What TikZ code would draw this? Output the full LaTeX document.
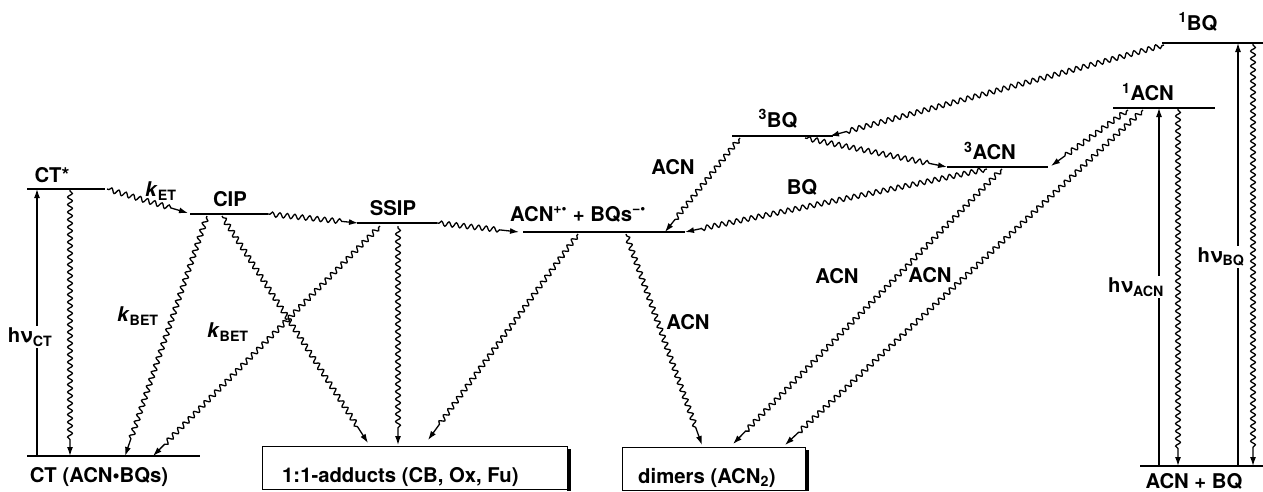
\documentclass[tikz,border=0pt]{standalone}
\usepackage{fontspec}
\setmainfont{TeX Gyre Heros}
\usetikzlibrary{decorations.pathmorphing,arrows.meta}
\begin{document}
\begin{tikzpicture}[x=1pt,y=-1pt,
  font=\fontsize{20.3}{23}\selectfont\bfseries,
  lvl/.style={line width=1.3pt},
  tip/.style={-{Latex[length=9pt,width=6pt]}},
  wv/.style={line width=1.3pt, tip, decorate,
    decoration={snake, amplitude=2.4pt, segment length=7.5pt, pre length=2pt, post length=16pt}},
  st/.style={line width=1.2pt, tip},
  lab/.style={inner sep=1pt},
  hlab/.style={inner sep=2pt, fill=white},
  boxs/.style={draw, line width=1.2pt, minimum height=43pt, anchor=north west, inner sep=0pt}]
\useasboundingbox (0,0) rectangle (1263,491);

% ---------- levels ----------
\coordinate (CTsL) at (27,189);   \coordinate (CTsR) at (105,189);
\coordinate (CT0L) at (27,456);   \coordinate (CT0R) at (200,456);
\coordinate (CIPL) at (190,214);  \coordinate (CIPR) at (268,214);
\coordinate (SSL) at (357,223);   \coordinate (SSR) at (437,223);
\coordinate (IPL) at (523,232);   \coordinate (IPR) at (685,232);
\coordinate (TBL) at (732,136);   \coordinate (TBR) at (833,136);
\coordinate (TAL) at (947,167);   \coordinate (TAR) at (1048,167);
\coordinate (SAL) at (1113,108);  \coordinate (SAR) at (1215,108);
\coordinate (SBL) at (1162,43);   \coordinate (SBR) at (1263,43);
\coordinate (GL) at (1140,466);   \coordinate (GR) at (1263,466);
\foreach \a/\b in {CTsL/CTsR,CT0L/CT0R,CIPL/CIPR,SSL/SSR,IPL/IPR,TBL/TBR,TAL/TAR,SAL/SAR,SBL/SBR,GL/GR}
  \draw[lvl] (\a) -- (\b);

% ---------- boxes ----------
\node[boxs, minimum width=305pt] (adducts) at (262,446) {};
\fill (567,449) rectangle (571,491);
\node[anchor=west, inner sep=0pt] (adductsT) at (282,477) {1:1-adducts (CB, Ox, Fu)};
\node[boxs, minimum width=183pt] (dimers) at (622,447) {};
\fill (805,450) rectangle (809,491);
\node[anchor=west, inner sep=0pt] (dimersT) at (638,478) {dimers (ACN\textsubscript{2})};

% ---------- level labels ----------
\node[lab] (lCTs) at (52,175) {CT*};
\node[lab] (lCT0) at (99,477) {CT (ACN•BQs)};
\node[lab] (lCIP) at (230,199) {CIP};
\node[lab] (lSS) at (393,208) {SSIP};
\node[lab] (lIP) at (578,214) {ACN\textsuperscript{+•} + BQs\textsuperscript{−•}};
\node[lab] (lTB) at (778,119) {\textsuperscript{3}BQ};
\node[lab] (lTA) at (990,151) {\textsuperscript{3}ACN};
\node[lab] (lSA) at (1148,92) {\textsuperscript{1}ACN};
\node[lab] (lSB) at (1198,22) {\textsuperscript{1}BQ};
\node[lab] (lG) at (1194,481) {ACN + BQ};

% ---------- connector end points ----------
\coordinate (a1) at (37,456);   \coordinate (a2) at (37,189);
\coordinate (b1) at (70,189);   \coordinate (b2) at (70,456);
\coordinate (c1) at (107,189);  \coordinate (c2) at (188,213);
\coordinate (d1) at (268,214);  \coordinate (d2) at (358,223);
\coordinate (e1) at (437,223);  \coordinate (e2) at (519,232);
\coordinate (f1) at (207,216);  \coordinate (f2) at (125,456);
\coordinate (g1) at (380,226);  \coordinate (g2) at (153,456);
\coordinate (h1) at (222,216);  \coordinate (h2) at (368,443);
\coordinate (i1) at (398,226);  \coordinate (i2) at (398,445);
\coordinate (j1) at (578,234);  \coordinate (j2) at (428,440);
\coordinate (k1) at (626,234);  \coordinate (k2) at (702,445);
\coordinate (l1) at (740,138);  \coordinate (l2) at (665,232);
\coordinate (m1) at (987,169);  \coordinate (m2) at (685,232);
\coordinate (n1) at (1164,45);  \coordinate (n2) at (830,136);
\coordinate (o1) at (805,138);  \coordinate (o2) at (947,167);
\coordinate (p1) at (1002,169); \coordinate (p2) at (733,444);
\coordinate (q1) at (1128,110); \coordinate (q2) at (1051,166);
\coordinate (r1) at (1143,110); \coordinate (r2) at (785,445);
\coordinate (s1) at (1159,466); \coordinate (s2) at (1159,108);
\coordinate (t1) at (1178,108); \coordinate (t2) at (1178,466);
\coordinate (u1) at (1238,466); \coordinate (u2) at (1238,43);
\coordinate (v1) at (1253,43);  \coordinate (v2) at (1253,466);

% ---------- straight (absorption) arrows ----------
\draw[st] (a1) -- (a2);
\draw[st] (s1) -- (s2);
\draw[st] (u1) -- (u2);

% ---------- wavy arrows ----------
\foreach \p in {b,c,d,e,f,g,h,i,j,k,l,m,n,o,p,q,r,t,v}
  \draw[wv] (\p1) -- (\p2);

% ---------- connector labels ----------
\node[hlab] (lhCT) at (30,337) {hν\textsubscript{CT}};
\node[hlab] (lhACN) at (1136,287) {hν\textsubscript{ACN}};
\node[hlab] (lhBQ) at (1221,257) {hν\textsubscript{BQ}};
\node[lab] (lkET) at (161,191) {\textit{k}\textsubscript{ET}};
\node[lab] (lkB1) at (138,316) {\textit{k}\textsubscript{BET}};
\node[lab] (lkB2) at (228,332) {\textit{k}\textsubscript{BET}};
\node[lab] (lACN1) at (673,167) {ACN};
\node[lab] (lACN2) at (688,322) {ACN};
\node[lab] (lACN3) at (837,276) {ACN};
\node[lab] (lACN4) at (930,275) {ACN};
\node[lab] (lBQ) at (802,187) {BQ};
\end{tikzpicture}
\end{document}
